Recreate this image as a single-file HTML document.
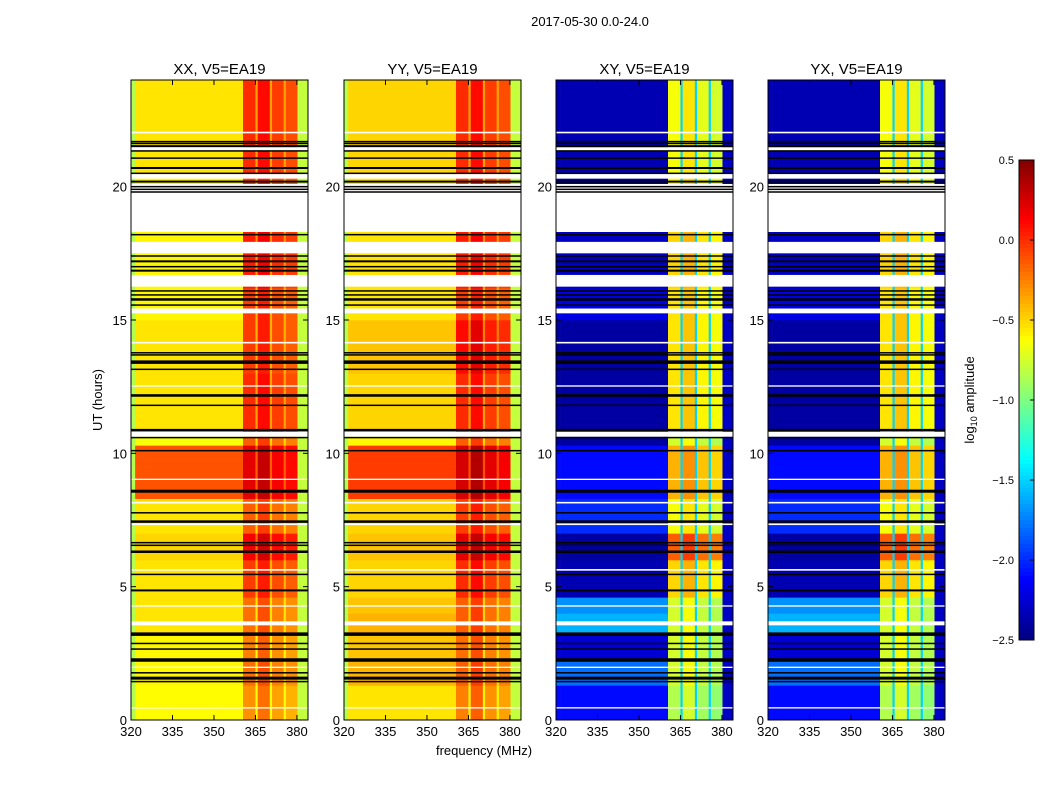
<!DOCTYPE html>
<html><head><meta charset="utf-8"><style>
body{margin:0;background:#fff;font-family:"Liberation Sans",sans-serif}
svg text{font-family:"Liberation Sans",sans-serif;fill:#000}
</style></head><body>
<svg id="fig" width="1050" height="800" xmlns="http://www.w3.org/2000/svg">
<rect width="1050" height="800" fill="#fff"/>
<text x="590" y="26" font-size="13" text-anchor="middle">2017-05-30 0.0-24.0</text>
<text transform="translate(102,400) rotate(-90)" font-size="13" text-anchor="middle">UT (hours)</text>
<text x="484" y="755" font-size="13" text-anchor="middle">frequency (MHz)</text>
<g id="panels"></g>
<g id="cbar"></g>
<text transform="translate(974,400) rotate(-90)" font-size="13" text-anchor="middle">log<tspan font-size="9" dy="3">10</tspan><tspan dy="-3"> amplitude</tspan></text>
</svg>
<script>
const panelNames=["XX, V5=EA19","YY, V5=EA19","XY, V5=EA19","YX, V5=EA19"];
const segStart=[0,1.3,2.3,3.2,4.0,4.6,6.0,7.0,8.3,10.3,10.8,13.0,15.0,16.2,19.5,20.5];
const segEnd=[1.3,2.3,3.2,4.0,4.6,6.0,7.0,8.3,10.3,10.8,13.0,15.0,16.2,18.3,20.5,24];
const xxBase=[-0.62,-0.6,-0.6,-0.55,-0.55,-0.55,-0.5,-0.55,-0.12,-0.65,-0.55,-0.55,-0.6,-0.6,-0.6,-0.55];
const xxBand=[-0.3,-0.2,-0.25,-0.2,-0.2,-0.05,0.15,-0.15,0.2,-0.15,0.0,-0.05,-0.05,0.05,-0.05,0.0];
const yyBase=[-0.55,-0.4,-0.45,-0.4,-0.45,-0.5,-0.45,-0.5,-0.05,-0.6,-0.5,-0.45,-0.55,-0.55,-0.55,-0.5];
const yyBand=[-0.25,-0.15,-0.2,-0.15,-0.15,0.0,0.2,-0.05,0.25,-0.15,0.0,0.1,-0.05,0.05,-0.05,0.0];
const xyBase=[-2.1,-1.8,-2.25,-1.6,-1.7,-2.35,-2.4,-2.0,-2.1,-2.4,-2.4,-2.4,-2.2,-2.3,-2.4,-2.35];
const xyBand=[-0.85,-0.75,-0.75,-0.75,-0.75,-0.5,-0.15,-0.65,-0.4,-0.75,-0.55,-0.55,-0.55,-0.5,-0.6,-0.65];
const colLo=[320,321.5,360.5,365,365.8,370.2,371,375.2,376,380.2];
const colHi=[321.5,360.5,365,365.8,370.2,371,375.2,376,380.2,384];
const colType=["edgeL","base","band","gap","band","gap","band","gap","band","edgeR"];
const bandOffset=[0,0.1,-0.05,-0.1];
const blankLo=[18.3,17.5,16.25,15.25,10.62,7.31,19.5,20.3,21.35,14.12,12.5,8.12,5.6,4.25,0.43,3.55,1.95,20.4,22.0,9.0];
const blankHi=[19.5,17.93,16.69,15.43,10.81,7.37,20.1,20.42,21.48,14.18,12.55,8.18,5.66,4.3,0.48,3.7,2.0,20.5,22.06,9.05];
const lineAt=[12.15,11.8,10.87,10.59,10.1,8.58,7.77,7.44,6.65,6.55,6.31,5.46,4.86,3.22,2.87,2.66,2.25,1.77,1.57,1.44,16.09,15.94,15.77,15.56,13.77,13.69,13.42,13.15,12.19,21.69,21.62,21.52,21.34,21.07,20.7,20.5,20.19,20.0,19.9,19.8,17.4,17.2,17.0,16.85,18.2];
const lineW=[1.5,1.5,2.5,1.5,1.5,3,1.5,2.5,1.5,1.5,2.5,1.5,2,3.5,1.5,1.5,3.5,1.5,3,1.5,1.5,1.5,2.5,1.5,1.5,1.5,3.5,1.5,1.5,1.5,1.5,2,1.5,1.5,2,1.5,2,1.5,1.5,1.5,1.5,2,1.5,2,1.5];
const xTicks=[320,335,350,365,380];
const yTicks=[0,5,10,15,20];
const cbTicks=[0.5,0.0,-0.5,-1.0,-1.5,-2.0,-2.5];
const cbLabels=["0.5","0.0","\u22120.5","\u22121.0","\u22121.5","\u22122.0","\u22122.5"];

const NS="http://www.w3.org/2000/svg";
const PX=[131,344,556,768],PW=177,PT=80,PB=720;
const VMIN=-2.5,VMAX=0.5;
function jet(v){let t=(v-VMIN)/(VMAX-VMIN);t=Math.max(0,Math.min(1,t));
 const c=x=>Math.max(0,Math.min(1,x));
 const r=c(1.5-Math.abs(4*t-3)),g=c(1.5-Math.abs(4*t-2)),b=c(1.5-Math.abs(4*t-1));
 return `rgb(${Math.round(r*255)},${Math.round(g*255)},${Math.round(b*255)})`;}
function xs(p,f){return PX[p]+(f-320)/64*PW;}
function ys(h){return PB-(h/24)*(PB-PT);}
function mk(tag,attrs,parent){const e=document.createElementNS(NS,tag);for(const k in attrs)e.setAttribute(k,attrs[k]);parent.appendChild(e);return e;}
const G=document.getElementById("panels");
const baseArr=[xxBase,yyBase,xyBase,xyBase],bandArr=[xxBand,yyBand,xyBand,xyBand];
for(let p=0;p<4;p++){
 const g=mk("g",{},G);
 
 
 const cross=p>=2;
 for(let s=0;s<segStart.length;s++){
  const y1=ys(segEnd[s]),y2=ys(segStart[s]);let bi=0;
  for(let c=0;c<colLo.length;c++){
   const t=colType[c];let v;
   if(t==="base")v=baseArr[p][s];
   else if(t==="band"){v=bandArr[p][s]+bandOffset[bi];bi++;}
   else if(t==="gap")v=cross?-1.5:bandArr[p][s]-0.35;
   else if(t==="edgeL")v=cross?baseArr[p][s]:-0.85;
   else v=cross?-2.3:-0.8;
   const r=mk("rect",{x:xs(p,colLo[c]),y:y1,width:xs(p,colHi[c])-xs(p,colLo[c])+0.3,height:y2-y1+0.3,fill:jet(v)},g);
   
   
  }
 }
 for(let i=0;i<blankLo.length;i++){
  const r=mk("rect",{x:PX[p],y:ys(blankHi[i]),width:PW,height:ys(blankLo[i])-ys(blankHi[i]),fill:"#fff"},g);
  
  
 }
 for(let i=0;i<lineAt.length;i++){
  const r=mk("rect",{x:PX[p],y:ys(lineAt[i])-lineW[i]/2,width:PW,height:lineW[i],fill:"#000"},g);
  
  
 }
 const fr=mk("rect",{x:PX[p],y:PT,width:PW,height:PB-PT,fill:"none",stroke:"#000","stroke-width":1},g);
 
 
 const tt=mk("text",{x:PX[p]+PW/2,y:74,"font-size":15,"text-anchor":"middle"},g);tt.textContent=panelNames[p];
 
 
 for(const f of xTicks){const x=xs(p,f);
  mk("line",{x1:x,x2:x,y1:PB,y2:PB-5,stroke:"#000"},g);mk("line",{x1:x,x2:x,y1:PT,y2:PT+5,stroke:"#000"},g);
  const t=mk("text",{x:x,y:736,"font-size":13,"text-anchor":"middle"},g);t.textContent=f;
  
  }
 for(const h of yTicks){const y=ys(h);
  mk("line",{x1:PX[p],x2:PX[p]+5,y1:y,y2:y,stroke:"#000"},g);mk("line",{x1:PX[p]+PW,x2:PX[p]+PW-5,y1:y,y2:y,stroke:"#000"},g);
  const t=mk("text",{x:PX[p]-4,y:y+5,"font-size":13,"text-anchor":"end"},g);t.textContent=h;
  
  }
}
const CB=document.getElementById("cbar");const CX=1019,CW=15,CT=160,CBt=640;
for(let i=0;i<120;i++){const v=VMAX-(i+0.5)/120*(VMAX-VMIN);
 const r=mk("rect",{x:CX,y:CT+i*(CBt-CT)/120,width:CW,height:(CBt-CT)/120+0.5,fill:jet(v)},CB);
 
 }
mk("rect",{x:CX,y:CT,width:CW,height:CBt-CT,fill:"none",stroke:"#000"},CB);
for(let i=0;i<cbTicks.length;i++){const y=CT+(VMAX-cbTicks[i])/(VMAX-VMIN)*(CBt-CT);
 mk("line",{x1:CX+CW-4,x2:CX+CW,y1:y,y2:y,stroke:"#000"},CB);
 const t=mk("text",{x:CX-5,y:y+4,"font-size":11,"text-anchor":"end"},CB);t.textContent=cbLabels[i];
 
 }
</script>
</body></html>
